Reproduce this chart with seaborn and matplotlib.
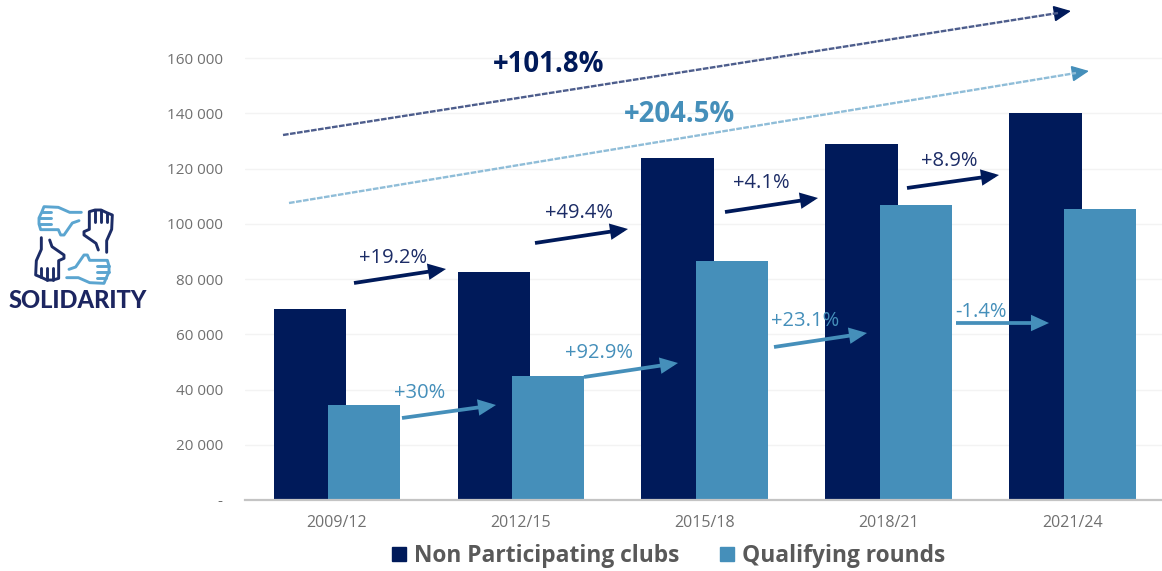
import matplotlib
matplotlib.use("Agg")
import matplotlib.pyplot as plt
import numpy as np
import pandas as pd
import seaborn as sns
from matplotlib.lines import Line2D

seasons = ["2009/12", "2012/15", "2015/18", "2018/21", "2021/24"]
non_participating = [69100, 82500, 123800, 128900, 140100]
qualifying = [34400, 44900, 86500, 106800, 105300]
ytick_values = [0, 20000, 40000, 60000, 80000, 100000, 120000, 140000, 160000]
ytick_labels = ["-", "20 000", "40 000", "60 000", "80 000", "100 000", "120 000", "140 000", "160 000"]
dark_changes = ["+19.2%", "+49.4%", "+4.1%", "+8.9%"]
light_changes = ["+30%", "+92.9%", "+23.1%", "-1.4%"]

DARK = "#001a5a"
LIGHT = "#458fba"
W, H = 1162, 571

sns.set_theme(style="white")
plt.rcParams["font.family"] = ["Open Sans", "DejaVu Sans"]

df = pd.DataFrame({
    "season": seasons * 2,
    "value": non_participating + qualifying,
    "group": ["Non Participating clubs"] * 5 + ["Qualifying rounds"] * 5,
})

fig = plt.figure(figsize=(W / 100, H / 100), dpi=100)
ax = fig.add_axes([245 / W, 1 - 500 / H, (W - 245) / W, 500 / H])
ax.set_facecolor("none")

# negative gap makes the two bars of a season overlap
sns.barplot(data=df, x="season", y="value", hue="group", ax=ax, width=0.592, gap=-0.331,
            palette=[DARK, LIGHT], saturation=1, zorder=3, linewidth=0, edgecolor="none")
ax.set_xlim(-0.5, 4.484)
ax.set_ylim(0, 181000)
ax.set_xlabel("")
ax.set_ylabel("")
ax.set_yticks(ytick_values, ytick_labels)
ax.tick_params(axis="both", length=0, labelcolor="#707070")
ax.tick_params(axis="x", pad=11, labelsize=11.5)
ax.tick_params(axis="y", pad=16, labelsize=11)
ax.grid(axis="y", color="#f3f3f3", lw=1)
ax.set_axisbelow(True)
for side in ["top", "right", "left"]:
    ax.spines[side].set_visible(False)
ax.spines["bottom"].set_color("#c4c4c4")
ax.spines["bottom"].set_linewidth(1.6)
ax.spines["bottom"].set_zorder(5)

handles, labels = ax.get_legend_handles_labels()
marker_handles = [Line2D([], [], ls="", marker="s", ms=10, color=c) for c in [DARK, LIGHT]]
leg = fig.legend(marker_handles, labels, loc="center", bbox_to_anchor=(667.5 / W, 1 - 556 / H),
                 ncol=2, frameon=False, handlelength=0.8, handletextpad=0.27, columnspacing=1.7,
                 prop={"size": 16.4, "weight": "bold"})
for t in leg.get_texts():
    t.set_color("#595959")
ax.get_legend().remove()


def px(x, y):
    return x / W, 1 - y / H


def arrow(start, end, color, lw=2.7):
    ax.annotate("", xy=px(*end), xytext=px(*start), xycoords="figure fraction", textcoords="figure fraction",
                arrowprops=dict(arrowstyle="-|>,head_length=0.7,head_width=0.32", color=color, lw=lw,
                                shrinkA=0, shrinkB=0, joinstyle="miter", capstyle="butt"), zorder=6)


def label(pos, text, color, **kw):
    fig.text(*px(*pos), text, color=color, ha="center", va="center", zorder=7, **kw)


# year on year changes
dark_arrows = [((354, 283), (446, 269)), ((535, 243), (628, 229)), ((725, 212), (818, 198)), ((907, 188), (999, 175))]
light_arrows = [((402, 418), (496, 405)), ((584, 377), (678, 363)), ((774, 347), (867, 333)), ((956, 323), (1049, 323))]
dark_pos = [(393, 258), (579, 213), (761, 183), (949, 161)]
light_pos = [(420, 393), (599, 353), (805, 321), (981, 312)]
for (a, b), p, s in zip(dark_arrows, dark_pos, dark_changes):
    arrow(a, b, DARK)
    label(p, s, "#1c2c66", fontsize=14.5)
for (a, b), p, s in zip(light_arrows, light_pos, light_changes):
    arrow(a, b, LIGHT)
    label(p, s, LIGHT, fontsize=14.5)

# long dashed trends
for start, end, line_col, head_col in [((283, 135), (1058, 13), "#4d5d8c", DARK), ((289, 203), (1076, 73), "#8fbdd8", LIGHT)]:
    fig.add_artist(Line2D([start[0] / W, end[0] / W], [1 - start[1] / H, 1 - end[1] / H], color=line_col,
                          lw=1.7, dashes=(2.4, 0.6)))
    tip = (end[0] + 13, end[1] - 2)
    ax.annotate("", xy=px(*tip), xytext=px(end[0] - 1, end[1] + 0.2), xycoords="figure fraction",
                textcoords="figure fraction",
                arrowprops=dict(arrowstyle="-|>,head_length=0.9,head_width=0.42", color=head_col, lw=1.0,
                                shrinkA=0, shrinkB=0, joinstyle="miter"), zorder=6)
label((549, 65), "+101.8%", DARK, fontsize=19.8, fontweight="bold")
label((679, 114), "+204.5%", LIGHT, fontsize=19.8, fontweight="bold")

# logo: one hand rotated four times, coordinates from a 3x crop
hand_outline = np.array([(320, 187), (320, 152), (335, 118), (337, 75), (320, 68), (303, 60), (285, 60), (268, 65),
                         (268, 118), (252, 125), (252, 135), (288, 160), (295, 180)], float)
finger_lines = [np.array([(285, 60), (285, 95)], float), np.array([(303, 60), (303, 95)], float),
                np.array([(320, 68), (320, 95)], float)]
centre = np.array([222, 165.0])
for k, col in enumerate(["#1c2c66", "#5ba5d0", "#1c2c66", "#5ba5d0"]):
    for part in [hand_outline] + finger_lines:
        d = part - centre
        for _ in range(k):
            d = np.column_stack([-d[:, 1], d[:, 0]])
        pts = (d + centre) / 3 + np.array([0, 190])
        fig.add_artist(Line2D(pts[:, 0] / W, 1 - pts[:, 1] / H, color=col, lw=2.1,
                              solid_capstyle="round", solid_joinstyle="round"))
label((78, 300), "SOLIDARITY", "#1c2560", fontsize=17, fontweight=900, family=["Lato", "DejaVu Sans"])

fig.savefig("out.png", dpi=100)
